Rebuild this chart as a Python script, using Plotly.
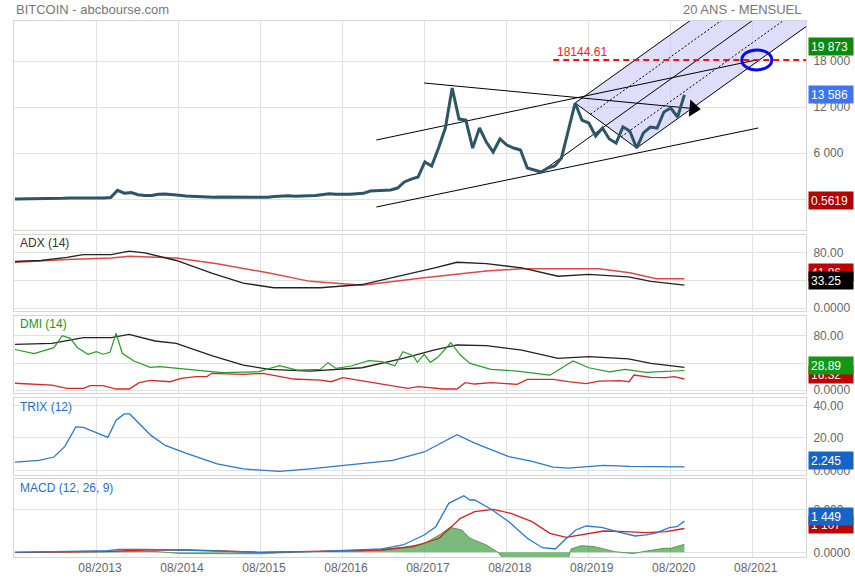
import plotly.graph_objects as go

FONT = "Liberation Sans, Arial, Helvetica, sans-serif"

# ---------------- time axis: months counted from 08/2012 ----------------
tick_months = [12, 24, 36, 48, 60, 72, 84, 96, 108]
tick_labels = ["08/2013", "08/2014", "08/2015", "08/2016", "08/2017",
               "08/2018", "08/2019", "08/2020", "08/2021"]

# ---------------- monthly price (08/2012 .. 10/2020) ----------------
price = [10.2, 12.4, 11.2, 12.6, 13.5,
         20.4, 33.4, 93, 139, 129, 97, 106, 135, 133, 198, 1130, 750,
         830, 550, 450, 450, 630, 640, 590, 480, 390, 340, 380, 320,
         220, 255, 245, 235, 230, 263, 285, 230, 237, 315, 377, 430,
         370, 437, 416, 448, 530, 670, 624, 575, 610, 700, 742, 1040,
         1100, 1170, 1170, 1430, 2220, 2600, 2870, 4830, 4300, 6650, 9260, 14480,
         10430, 10300, 6650, 9260, 7430, 6130, 7830, 7040, 6650, 6390, 4040, 3780,
         3520, 4040, 4300, 5350, 9000, 12520, 10300, 9910, 8220, 9260, 7830, 7300,
         9390, 8870, 6650, 8610, 9390, 9260, 11350, 11870, 10700, 13586]
price_t = list(range(len(price)))

# ---------------- ADX (14) ----------------
adx_t = [0, 3.8, 7.6, 10.0, 14.1, 16.7, 19.0, 23.6, 28.8, 33.4, 37.9, 44.7, 50.8,
         56.8, 61.3, 64.7, 69.0, 74.2, 79.5, 84.0, 89.8, 93.1, 98]
adx_v = [67, 68.6, 73, 77, 77, 82, 79.5, 68.6, 50.5, 36, 29.5, 29.5, 34,
         47, 57.6, 66, 64, 58, 46, 48.6, 45, 38.6, 33.25]
adxr_t = [0, 7.6, 14.1, 16.7, 23.6, 29.6, 37.2, 43.2, 50.8, 59.9, 69.0, 74.2,
          85.5, 90.0, 93.9, 98]
adxr_v = [66, 70, 72, 74.7, 72, 64, 50.5, 38.6, 32.9, 43.8, 53.3, 56.7,
          56.7, 51, 42.4, 42.4]

# ---------------- DMI (14) ----------------
dmi_adx_t = [0, 5.4, 10.0, 14.1, 16.7, 20.5, 23.6, 28.8, 33.4, 37.2, 43.2, 50.8,
             56.8, 61.3, 64.7, 69.0, 74.2, 79.5, 84.0, 89.8, 93.1, 98]
dmi_adx_v = [67.7, 69, 77.5, 77.5, 82.5, 72.6, 69, 50.9, 37, 30.6, 28, 33,
             47, 59, 66.7, 65.7, 59, 47, 49.4, 46, 39.5, 33.6]
di_plus_t = [0, 2.8, 5.7, 6.9, 8.1, 9.1, 10.7, 11.9, 12.9, 13.9, 14.8, 15.7, 17.4,
             19.8, 21.2, 25.8, 30.3, 35.6, 38.7, 41.3, 44.7, 45.8, 47.0, 49.2, 51.8,
             53.7, 55.6, 56.8, 58.3, 58.9, 59.9, 60.8, 61.9, 63.8, 65.2, 66.6, 69.7,
             73.5, 78.3, 81.7, 84.0, 87.0, 89.3, 92.4, 96.0, 98]
di_plus_v = [60, 54, 62.7, 80.5, 76.5, 63, 53, 56.8, 53, 55.8, 84, 54.3, 43,
             33.6, 34.6, 29.6, 25.7, 27, 36, 29.6, 30.6, 40.5, 32, 35.6, 43.4,
             42, 36, 56.8, 50.8, 41, 52.9, 41, 48.4, 70, 51.8, 39.5, 30.6,
             28, 22, 43, 33, 27, 30.6, 26.2, 28, 28.89]
di_minus_t = [0, 5.4, 7.6, 10.0, 11.0, 12.9, 14.8, 16.7, 18.2, 19.8, 22.7, 24.3,
              26.5, 28.1, 28.8, 33.4, 36.3, 38.7, 40.8, 44.7, 46.3, 48.0, 50.8,
              57.5, 59.0, 62.8, 64.7, 65.9, 67.3, 69.7, 73.5, 75.0, 78.8, 81.0,
              83.6, 85.5, 88.6, 89.9, 90.6, 93.1, 95.3, 96.5, 98]
di_minus_v = [10, 7.4, 2.5, 2.5, 6.4, 6.4, 1.5, 1.5, 10.9, 14.3, 12.3, 17.3,
              19.8, 19.8, 24.7, 23.2, 24.7, 19.8, 16.3, 14.8, 12.3, 18.3, 13.8,
              2.5, 4.9, 1.5, 1.5, 10.9, 8.9, 10.9, 8.4, 15.8, 15.8, 12.3,
              9.4, 13.3, 13.8, 12.3, 22.2, 18.8, 18.3, 19.8, 16.32]

# ---------------- TRIX (12) ----------------
trix_t = [0, 3.5, 5.7, 7.3, 8.9, 10.0, 13.6, 14.8, 16.0, 16.8, 19.9, 22.0, 25.0,
          29.6, 33.4, 38.7, 43.2, 49.2, 55.3, 59.9, 62.8, 64.7, 67.3, 72.3, 75.7,
          78.8, 81.0, 86.2, 90.0, 98]
trix_v = [5.2, 6.2, 8.3, 14.8, 26.8, 26.5, 20.4, 30.9, 34.8, 34.8, 21.6, 15.4, 10.7,
          4.1, 1.0, -0.6, 1.0, 3.5, 6.2, 11.4, 17.9, 22, 16.9, 8.6, 5.6,
          2.1, 1.5, 3.1, 2.5, 2.245]

# ---------------- MACD (12, 26, 9) ----------------
macd_t = [0, 8.3, 13.6, 15.2, 19.0, 28.1, 35.6, 44.7, 50.8, 53.7, 56.8, 59.9, 61.6,
          63.5, 65.7, 66.6, 67.3, 69.7, 72.3, 75.0, 77.2, 79.1, 80.2, 82.1, 83.6,
          85.9, 88.1, 90.8, 92.4, 93.9, 95.8, 96.9, 98]
macd_v = [0, 60, 77, 140, 140, 77, 0, 46, 108, 155, 341, 806, 1191,
          2278, 2633, 2432, 2432, 2000, 1424, 651, 214, 155, 493, 1037, 1223,
          1162, 958, 758, 806, 900, 1144, 1191, 1449]
signal_t = [0, 12.9, 19.0, 25.0, 30.3, 35.6, 47.0, 53.7, 58.3, 62.1, 65.2, 67.3,
            70.0, 72.6, 75.7, 78.3, 80.7, 83.3, 86.2, 89.3, 92.4, 95.3, 98]
signal_v = [0, 31, 108, 108, 60, 0, 62, 108, 262, 651, 1581, 1888,
            2000, 1814, 1424, 884, 698, 837, 990, 958, 912, 958, 1107]
hist_t = [0, 12.9, 16.7, 20.5, 24.3, 35.6, 43.2, 50.8, 56.8, 59.9, 62.1, 63.7,
          65.4, 66.6, 69.0, 70.7, 72.3, 80.7, 81.4, 82.9, 84.8, 86.2, 87.8, 90.5,
          91.9, 95.0, 96.0, 98]
hist_v = [0, 30, 60, 40, -60, -70, 30, 60, 232, 400, 806, 1163,
          1038, 651, 341, 0, -600, -600, 155, 310, 263, 155, 31, -60,
          31, 186, 186, 372]

# ---------------- drawing tools on the price panel ----------------
channel_t = [52.9, 108.8]
channel_low = [-1043, 9261]
channel_high_t = [52.9, 108.6]
channel_high = [7696, 18144.61]
trend_t = [59.9, 100.0]
trend_v = [15130, 11739]
pitch_idx = [77, 82, 91]          # pivots A, B, C (monthly points)
target_level = 18144.61
target_start = 78.8

X_RANGE = [-0.15, 115.8]

fig = go.Figure()


def line(x, y, color, width=1.0, axis=1, dash=None, **kw):
    fig.add_trace(go.Scatter(
        x=x, y=y, mode="lines", xaxis="x" if axis == 1 else f"x{axis}",
        yaxis="y" if axis == 1 else f"y{axis}",
        line=dict(color=color, width=width, dash=dash), hoverinfo="skip", **kw))


# --- pitchfork geometry from the pivots
A = (price_t[pitch_idx[0]], price[pitch_idx[0]])
B = (price_t[pitch_idx[1]], price[pitch_idx[1]])
C = (price_t[pitch_idx[2]], price[pitch_idx[2]])
M = ((B[0] + C[0]) / 2, (B[1] + C[1]) / 2)
D = (M[0] - A[0], M[1] - A[1])
K = 6


def ext(P):
    return (P[0] + K * D[0], P[1] + K * D[1])


Q1 = (B[0] + 0.25 * (C[0] - B[0]), B[1] + 0.25 * (C[1] - B[1]))
Q3 = (B[0] + 0.75 * (C[0] - B[0]), B[1] + 0.75 * (C[1] - B[1]))

# fill between outer prongs
fig.add_trace(go.Scatter(
    x=[B[0], C[0], ext(C)[0], ext(B)[0], B[0]],
    y=[B[1], C[1], ext(C)[1], ext(B)[1], B[1]],
    mode="lines", fill="toself", fillcolor="rgba(190,190,248,0.5)",
    line=dict(width=0), hoverinfo="skip"))

for P in (A, B, C):
    line([P[0], ext(P)[0]], [P[1], ext(P)[1]], "#000000", 1)
for P in (Q1, Q3):
    line([P[0], ext(P)[0]], [P[1], ext(P)[1]], "#000000", 1, dash="2px,2px")
line([B[0], C[0]], [B[1], C[1]], "#000000", 1)

# channel lines
line(channel_t, channel_low, "#000000", 1)
line(channel_high_t, channel_high, "#000000", 1)
# descending trend with arrow head
line(trend_t, trend_v, "#000000", 1)
fig.add_trace(go.Scatter(
    x=[trend_t[1] - 0.7], y=[trend_v[1] + (trend_v[0] - trend_v[1]) * 0.7 / (trend_t[1] - trend_t[0])],
    mode="markers", marker=dict(symbol="triangle-right", size=15, color="#000000", angle=5,
                                line=dict(width=0)), hoverinfo="skip"))
# target level
line([target_start, X_RANGE[1]], [target_level, target_level], "#ee1111", 2, dash="6px,4px")

# price
line(price_t, price, "#2c5567", 3)

# ADX
line(adxr_t, adxr_v, "#dd4848", 1.5, axis=2)
line(adx_t, adx_v, "#222222", 1.4, axis=2)
# DMI
line(dmi_adx_t, dmi_adx_v, "#222222", 1.3, axis=3)
line(di_minus_t, di_minus_v, "#d62a2a", 1.3, axis=3)
line(di_plus_t, di_plus_v, "#2a9a2a", 1.2, axis=3)
# TRIX
line(trix_t, trix_v, "#2a78d0", 1.3, axis=4)
# MACD
fig.add_trace(go.Scatter(x=hist_t, y=hist_v, mode="lines", xaxis="x5", yaxis="y5",
                         fill="tozeroy", fillcolor="rgba(70,160,70,0.72)",
                         line=dict(color="rgba(60,140,60,0.8)", width=1), hoverinfo="skip"))
line(signal_t, signal_v, "#d42020", 1.3, axis=5)
line(macd_t, macd_v, "#2a78d0", 1.3, axis=5)

# ---------------- axes ----------------
PLOT_TOP, PLOT_BOTTOM = 21, 557
H = PLOT_BOTTOM - PLOT_TOP


def dom(top_px, bottom_px):
    return [(PLOT_BOTTOM - bottom_px) / H, (PLOT_BOTTOM - top_px) / H]


panels = [
    dict(dom=dom(21, 230), rng=[-4043, 23217], tv=[0, 6000, 12000, 18000],
         tt=["0", "6 000", "12 000", "18 000"]),
    dict(dom=dom(235, 311), rng=[-3.9, 105.1], tv=[0, 40, 80], tt=["0.0000", "40.00", "80.00"]),
    dict(dom=dom(316, 393), rng=[-4.4, 109.6], tv=[0, 40, 80], tt=["0.0000", "40.00", "80.00"]),
    dict(dom=dom(398, 475), rng=[-2.77, 44.6], tv=[0, 20, 40], tt=["0.0000", "20.00", "40.00"]),
    dict(dom=dom(479, 557), rng=[-218.6, 3409], tv=[0, 2000], tt=["0.0000", "2.000"]),
]

GRID = "#e2e2e2"
BORDER = "#d6d6d6"
layout = {}
for i, p in enumerate(panels, start=1):
    xs = "xaxis" if i == 1 else f"xaxis{i}"
    ys = "yaxis" if i == 1 else f"yaxis{i}"
    layout[xs] = dict(domain=[0, 1], range=X_RANGE, anchor="y" if i == 1 else f"y{i}",
                      tickvals=tick_months, ticktext=tick_labels, showgrid=True,
                      gridcolor=GRID, gridwidth=1, zeroline=False, showline=True, mirror=True,
                      linecolor=BORDER, linewidth=1, ticks="", showticklabels=(i == 5),
                      tickfont=dict(family=FONT, size=12, color="#666666"),
                      automargin=False, fixedrange=True, ticklabelshift=3)
    layout[ys] = dict(domain=p["dom"], range=p["rng"], anchor="x" if i == 1 else f"x{i}",
                      side="right", tickvals=p["tv"], ticktext=p["tt"], showgrid=True,
                      gridcolor=GRID, gridwidth=1, zeroline=False, showline=True, mirror=True,
                      linecolor=BORDER, linewidth=1, ticks="",
                      tickfont=dict(family=FONT, size=12, color="#666666"),
                      automargin=False, fixedrange=True, ticklabelstandoff=4)

fig.update_layout(**layout)

annotations = []


def ptext(text, x, y, color, size=12, xanchor="left"):
    annotations.append(dict(xref="paper", yref="paper", x=x, y=y, text=text, showarrow=False,
                            xanchor=xanchor, yanchor="middle",
                            font=dict(family=FONT, size=size, color=color)))


ptext("BITCOIN - abcbourse.com", 0.0, (PLOT_BOTTOM - 9) / H, "#777777", 13)
ptext("20 ANS - MENSUEL", 0.9975, (PLOT_BOTTOM - 9) / H, "#777777", 13, xanchor="right")
ptext("ADX (14)", 0.005, (PLOT_BOTTOM - 243) / H, "#333333")
ptext("DMI (14)", 0.005, (PLOT_BOTTOM - 324) / H, "#1a961a")
ptext("TRIX (12)", 0.005, (PLOT_BOTTOM - 407) / H, "#1f6fc8")
ptext("MACD (12, 26, 9)", 0.005, (PLOT_BOTTOM - 488) / H, "#1f6fc8")

annotations.append(dict(xref="x", yref="y", x=target_start + 0.2, y=target_level,
                        text=f"{target_level:.2f}", showarrow=False, xanchor="left",
                        yanchor="bottom", yshift=-1,
                        font=dict(family=FONT, size=12, color="#ee2222")))


def vlabel(text, y, axis, bg, yshift=0):
    annotations.append(dict(xref="paper", yref="y" if axis == 1 else f"y{axis}", x=1, xshift=2,
                            y=y, yshift=yshift, text=text, showarrow=False, xanchor="left",
                            yanchor="middle", align="left", width=40, height=13, borderpad=2,
                            bgcolor=bg, font=dict(family=FONT, size=12, color="#ffffff")))


vlabel("19 873", 19873, 1, "#0d8a0d")
vlabel("13 586", 13586, 1, "#3d74f2")
vlabel("0.5619", 0.5619, 1, "#b30000", -1)
vlabel("41.86", adxr_v[-1], 2, "#c00000", 6)
vlabel("33.25", adx_v[-1], 2, "#000000", 5)
vlabel("16.32", di_minus_v[-1], 3, "#c00000", 5)
vlabel("28.89", di_plus_v[-1], 3, "#129812", 5)
vlabel("2.245", trix_v[-1], 4, "#1565c8", 6)
vlabel("1 107", signal_v[-1], 5, "#c00000", 4)
vlabel("1 449", macd_v[-1], 5, "#1565c8", 5)

fig.update_layout(
    annotations=annotations,
    shapes=[dict(type="circle", xref="x", yref="y", x0=106.4, x1=110.8, y0=16840, y1=19450,
                 line=dict(color="#0a0ae6", width=3), fillcolor="rgba(0,0,0,0)")],
    width=855, height=580, template="none",
    margin=dict(l=14, r=49, t=21, b=23, pad=0),
    paper_bgcolor="#ffffff", plot_bgcolor="#ffffff", showlegend=False,
    font=dict(family=FONT, size=12, color="#666666"),
)

fig.write_html("out.html", config={"displayModeBar": False, "staticPlot": True},
               post_script="document.body.style.margin='0';")
